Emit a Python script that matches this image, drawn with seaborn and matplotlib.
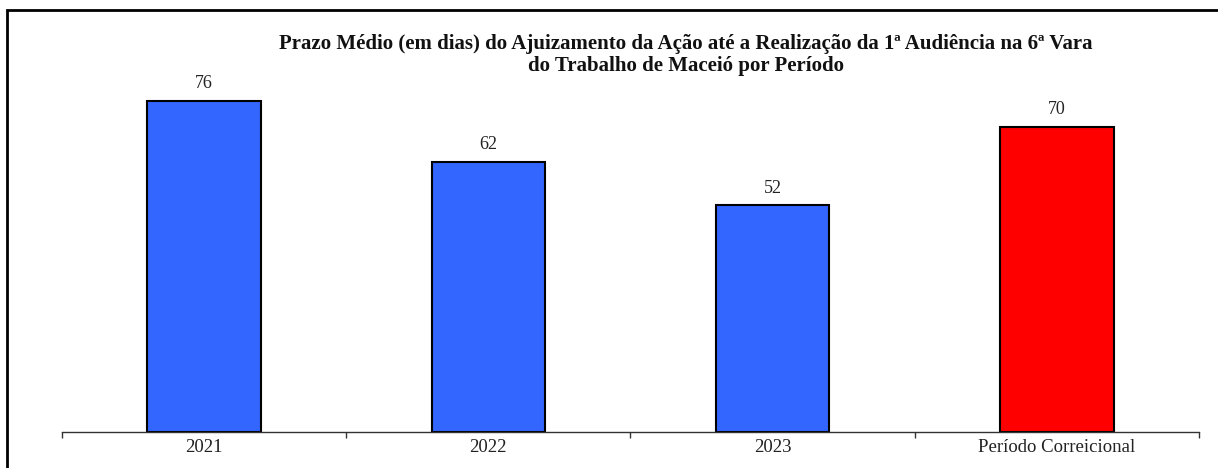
import numpy as np
import matplotlib.pyplot as plt
import seaborn as sns
import pandas as pd
from matplotlib.patches import Rectangle
from matplotlib.ticker import FixedLocator

# Data
periods = ['2021', '2022', '2023', 'Período Correicional']
prazo_medio = [76, 62, 52, 70]
bar_colors = ['#3366FF', '#3366FF', '#3366FF', '#FF0000']

df = pd.DataFrame({'periodo': periods, 'dias': prazo_medio})

sns.set_style("white")
plt.rcParams['font.family'] = ['Liberation Serif', 'DejaVu Serif']

fig = plt.figure(figsize=(12.18, 4.68), dpi=100)
ax = fig.add_axes([0.0509, 0.0769, 0.9335, 0.795])

sns.barplot(data=df, x='periodo', y='dias', hue='periodo', palette=bar_colors,
            legend=False, width=0.4, edgecolor='black', linewidth=1.5, ax=ax,
            saturation=1)

# value labels on top of bars
for i, v in enumerate(prazo_medio):
    ax.annotate(f"{v}", (i, v), xytext=(0, 6), textcoords='offset points',
                ha='center', va='bottom', fontsize=13, color='#222222')

ax.set_xlim(-0.5, len(periods) - 0.5)
ax.set_ylim(0, 85.3)
ax.set_xlabel('')
ax.set_ylabel('')
ax.set_yticks([])

for side in ['top', 'right', 'left']:
    ax.spines[side].set_visible(False)
ax.spines['bottom'].set_color('#333333')
ax.spines['bottom'].set_linewidth(1.0)

# labels at bar centres, tick marks at category boundaries
ax.tick_params(axis='x', which='major', length=0, labelsize=13.5, pad=5,
               labelcolor='#222222')
ax.xaxis.set_minor_locator(FixedLocator(np.arange(-0.5, len(periods), 1.0)))
ax.tick_params(axis='x', which='minor', length=4, width=1.0, color='#333333',
               direction='out', bottom=True)

fig.text(0.563, 0.882, 'Prazo Médio (em dias) do Ajuizamento da Ação até a Realização da 1ª Audiência na 6ª Vara\ndo Trabalho de Maceió por Período',
         ha='center', va='center', fontsize=15, fontweight='bold', linespacing=1.1,
         color='#111111')

# frame around the chart
fig.patches.append(Rectangle((7 / 1218, -0.05), 1.2, 1 - 10 / 468 + 0.05,
                             transform=fig.transFigure, fill=False,
                             edgecolor='black', linewidth=2.0))

fig.savefig('out.png', dpi=100)
